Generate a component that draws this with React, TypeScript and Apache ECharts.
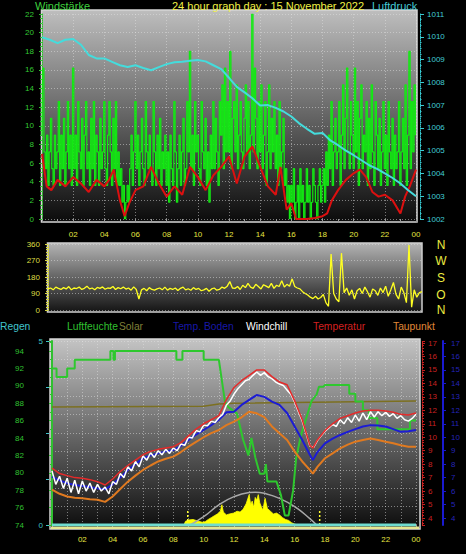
import { useEffect, useRef } from 'react';
import * as echarts from 'echarts';

// ---------- TOP CHART: wind (gust, 5-min) ----------
const windGust = [
  9.0,16.2,7.2,5.4,9.0,3.6,7.2,10.8,5.4,3.6,9.0,5.4,
  7.2,12.6,3.6,9.0,5.4,10.8,3.6,7.2,12.6,5.4,9.0,3.6,
  16.2,5.4,9.0,3.6,12.6,7.2,5.4,10.8,3.6,9.0,12.6,5.4,
  7.2,3.6,10.8,5.4,12.6,3.6,9.0,7.2,3.6,10.8,5.4,7.2,
  12.6,5.4,3.6,9.0,12.6,7.2,3.6,10.8,5.4,12.6,3.6,7.2,
  3.6,5.4,1.8,3.6,0,1.8,3.6,1.8,5.4,9.0,3.6,7.2,
  12.6,5.4,9.0,3.6,7.2,10.8,5.4,3.6,12.6,7.2,5.4,9.0,
  5.4,3.6,12.6,7.2,3.6,9.0,5.4,10.8,3.6,7.2,5.4,9.0,
  3.6,7.2,1.8,9.0,5.4,3.6,12.6,7.2,1.8,5.4,9.0,3.6,
  7.2,10.8,3.6,5.4,12.6,7.2,18.0,5.4,9.0,3.6,12.6,7.2,
  9.0,5.4,3.6,12.6,7.2,5.4,10.8,3.6,7.2,1.8,9.0,5.4,
  12.6,5.4,10.8,7.2,3.6,12.6,9.0,14.4,5.4,16.2,7.2,12.6,
  7.2,18.0,5.4,10.8,12.6,7.2,14.4,5.4,9.0,12.6,7.2,5.4,
  10.8,14.4,7.2,12.6,5.4,9.0,22.0,7.2,16.2,10.8,5.4,12.6,
  7.2,14.4,5.4,9.0,12.6,3.6,7.2,14.4,5.4,10.8,7.2,12.6,
  5.4,9.0,3.6,12.6,5.4,7.2,10.8,3.6,5.4,1.8,3.6,0,
  3.6,1.8,5.4,0,1.8,3.6,0,5.4,1.8,3.6,0,1.8,
  5.4,1.8,3.6,0,1.8,5.4,3.6,1.8,0,3.6,5.4,1.8,
  3.6,5.4,1.8,7.2,3.6,9.0,5.4,12.6,3.6,7.2,10.8,5.4,
  7.2,12.6,3.6,9.0,14.4,5.4,10.8,16.2,7.2,5.4,12.6,9.0,
  5.4,16.2,7.2,12.6,3.6,10.8,14.4,5.4,9.0,7.2,12.6,3.6,
  10.8,5.4,14.4,7.2,3.6,12.6,9.0,5.4,10.8,3.6,7.2,12.6,
  5.4,9.0,3.6,12.6,7.2,5.4,10.8,3.6,9.0,5.4,7.2,12.6,
  3.6,7.2,10.8,5.4,14.4,3.6,9.0,18.0,5.4,12.6,7.2,14.4,
  9.0,
];

const windAvgTimes = [0,0.3,0.6,1,1.5,2,2.5,3,3.5,4,4.3,4.6,5,5.3,5.6,6,6.5,7,7.5,8,8.5,9,9.5,10,10.5,11,11.5,12,12.5,13,13.5,14,14.5,15,15.3,15.7,16,16.3,16.5,17,17.5,18,18.3,18.6,19,19.5,20,20.4,20.8,21.2,21.6,22,22.5,23,23.3,23.6,24];
const windAvg = [7.0,3.5,3.1,4.2,3.5,4.5,3.8,2.9,4.2,3.5,4.2,5.3,2.0,0.3,1.7,3.1,3.5,5.6,3.8,2.4,3.5,2.6,5.6,4.5,3.1,4.7,5.6,6.7,3.8,6.7,7.8,5.6,3.5,2.6,5.6,1.0,1.7,0,0,0,0.1,0.3,0.6,2.0,3.1,4.2,4.9,5.3,4.5,2.9,2.4,2.6,2.0,0.6,2.4,3.5,5.3];

const pressureTimes = [0,0.5,1,1.5,2,2.5,3,3.5,4,4.5,5,5.5,6,6.5,7,7.5,8,8.5,9,9.5,10,10.5,11,11.5,12,12.5,13,13.5,14,14.5,15,15.5,16,16.5,17,17.5,18,18.5,19,19.5,20,20.5,21,21.5,22,22.5,23,23.5,24];
const pressure = [1009.98,1009.87,1009.72,1009.87,1009.9,1009.65,1009.2,1009.05,1009.05,1008.9,1008.75,1008.67,1008.75,1008.63,1008.53,1008.67,1008.8,1008.88,1008.9,1008.95,1008.98,1008.92,1008.75,1008.58,1008.2,1007.8,1007.56,1007.3,1006.98,1007.0,1006.88,1006.72,1006.5,1006.2,1005.96,1005.74,1005.78,1005.45,1005.24,1005.0,1004.8,1004.58,1004.36,1004.2,1004.0,1003.8,1003.56,1003.26,1003.0];

const windTicks = [0, 22, 2];
const pressureTicks = [1002, 1011, 1];

// ---------- MIDDLE CHART: wind direction (10-min) ----------
const direction = [
  115,120,110,125,118,112,
  122,115,128,110,120,117,
  125,112,118,130,115,120,
  110,123,118,126,113,120,
  118,128,112,122,116,125,
  114,120,108,126,112,60,
  110,118,105,122,112,108,
  115,120,110,125,108,118,
  112,120,106,118,125,110,
  116,108,122,112,118,105,
  110,118,102,115,120,108,
  112,125,118,130,155,120,
  118,128,112,135,122,145,
  125,118,140,128,115,138,
  130,122,145,118,135,128,
  160,125,140,130,170,128,
  120,115,100,90,82,70,
  62,75,60,68,85,40,
  20,305,90,60,45,310,
  95,120,80,110,60,105,
  118,90,125,100,70,115,
  105,80,120,95,130,75,
  110,150,85,60,125,95,
  40,355,15,110,70,95,
  100,
];
const compassLetters = ['N', 'W', 'S', 'O', 'N'];

// ---------- BOTTOM CHART ----------
const legendItems = ['Regen', 'Luftfeuchte', 'Solar', 'Temp. Boden', 'Windchill', 'Temperatur', 'Taupunkt'];

const tempTimes = [0,0.5,1,1.5,2,2.5,3,3.5,4,4.5,5,5.5,6,6.5,7,7.5,8,8.5,9,9.5,10,10.5,11,11.5,12,12.5,13,13.5,14,14.5,15,15.5,16,16.5,17,17.2,17.5,18,18.5,19,19.5,20,20.5,21,21.5,22,22.5,23,23.5,24];
const temperature = [7.7,7.3,7.15,7.0,6.95,6.85,6.7,6.45,6.9,7.45,7.9,8.3,8.7,8.95,9.1,9.2,9.3,9.6,10.1,10.6,11.0,11.3,11.6,12.8,13.7,14.2,14.6,15.0,15.0,14.5,14.1,13.9,12.7,11.3,9.4,9.2,9.8,10.5,11.0,11.4,11.6,11.8,11.95,12.0,12.0,11.95,11.85,11.7,11.65,11.8];
const groundTemp = [7.07,6.8,6.58,6.45,6.38,6.3,6.2,6.13,6.5,7.0,7.56,8.0,8.44,8.65,8.8,8.95,9.05,9.35,9.8,10.2,10.54,10.9,11.3,11.85,11.9,12.4,12.77,13.14,13.0,12.65,12.4,11.8,10.8,9.8,8.7,8.3,8.9,9.55,9.9,10.17,10.4,10.6,10.8,10.9,10.88,10.8,10.6,10.4,10.45,10.54];
const dewPoint = [6.1,5.8,5.6,5.5,5.47,5.4,5.35,5.2,5.6,6.15,6.7,7.15,7.57,7.9,8.2,8.4,8.56,8.9,9.3,9.65,10.0,10.3,10.54,10.9,11.16,11.48,11.9,11.78,11.5,10.8,10.3,9.8,8.93,8.2,7.57,7.3,7.8,8.44,8.8,9.18,9.45,9.67,9.8,9.9,9.8,9.67,9.55,9.4,9.3,9.3];

// windchill every 15 min
const windchill = [
  7.5,6.5,7.1,6.2, 6.95,5.9,6.8,5.8, 6.75,6.0,6.6,5.9, 6.5,6.0,6.3,5.8,
  6.7,6.5,7.3,7.0, 7.8,7.5,8.2,7.8, 8.6,8.3,8.85,8.5, 9.0,8.7,9.1,8.8,
  9.2,9.0,9.5,9.4, 10.0,9.95,10.5,10.4, 10.9,10.85,11.2,11.1, 11.45,11.7,12.4,12.7,
  13.2,13.6,13.9,14.2, 14.3,14.6,14.85,14.6, 14.8,14.5,14.35,14.1, 13.95,13.85,13.5,13.2,
  12.6,11.9,11.2,10.3, 9.35,9.25,9.75,10.1, 10.45,10.7,10.95,10.8, 11.3,11.0,11.45,11.1,
  11.65,11.2,11.8,11.3, 11.9,11.5,11.9,11.6, 11.85,11.55,11.75,11.4, 11.6,11.3,11.2,11.4,
  11.7,
];

const oliveTimes = [0, 10, 11, 12, 24];
const oliveValues = [12.25, 12.3, 12.47, 12.52, 12.7];

const humTimes = [0,0.3,0.3,1.0,1.0,1.5,1.5,3.85,3.85,4.05,4.05,4.15,4.15,8.2,8.2,8.6,8.6,10.0,10.0,11.0,11.4,11.6,12.2,12.6,12.95,13.15,13.4,13.7,14.0,14.1,14.2,14.8,15.1,15.35,15.6,15.9,16.1,16.4,16.8,17.1,17.45,17.6,17.9,18.0,19.6,19.6,20.0,20.0,20.5,20.5,20.9,20.9,21.45,21.45,23.6,23.6,24];
const humValues = [92,92,91,91,92,92,93,93,94,94,93,93,94,94,93,93,94,94,93,93,88.2,87.6,86.8,83.8,82,84,81.8,79.9,79.9,81,79,79,77.4,75.1,75.1,78,81.7,84.2,86.5,88.2,89,89.9,89.9,90.1,90.1,89.1,89.1,88.2,88.2,87.2,87.2,86.3,86.3,85,85,86,86];

const solarTimes = [8.7,8.8,9.0,9.3,9.6,9.9,10.1,10.3,10.5,10.7,10.9,11.1,11.2,11.3,11.5,11.7,12.0,12.2,12.4,12.6,12.8,13.0,13.1,13.2,13.3,13.4,13.5,13.6,13.7,13.8,13.9,14.05,14.2,14.4,14.6,14.8,15.0,15.2,15.4,15.6,15.8,16.0,16.2];
const solarValues = [0,20,27,30,22,15,18,30,40,50,60,75,110,70,55,60,65,75,70,85,115,165,110,130,95,150,135,165,120,100,80,145,90,75,60,65,55,40,30,25,12,5,0];
const solarMaxTimes = [9.1,10,11,12,13,13.4,14,15,16,17,17.45];
const solarMaxValues = [0,45,109,154,176,178,172,145,100,35,0];
const sunMarks = [8.95, 17.65];
const rainValue = 0;

const FONT = '"Liberation Sans", Arial, Helvetica, sans-serif';

const pad2 = (v: number) => { const h = v % 24; return h < 10 ? '0' + h : String(h); };
const hourLabel = (v: number) => (v === 0 || v % 2 !== 0 ? '' : pad2(v));
const intLabel = (v: number) => (Math.abs(v - Math.round(v)) < 1e-6 ? String(Math.round(v)) : '');
const pairs = (t: number[], v: number[]) => t.map((x, i) => [x, v[i]]);

export default function App() {
  const ref = useRef<HTMLDivElement>(null);
  useEffect(() => {
    if (!ref.current) return;
    const chart = echarts.init(ref.current, null, { renderer: 'svg', width: 466, height: 554 });
    const grad = (top: string, bottom: string) => ({
      type: 'linear', x: 0, y: 0, x2: 0, y2: 1,
      colorStops: [{ offset: 0, color: top }, { offset: 1, color: bottom }],
    });
    const dotted = { color: 'rgba(225,225,225,0.5)', type: [1, 2], width: 1 };
    const lab = (color: string, extra: any = {}) => ({ color, fontFamily: FONT, fontSize: 8, ...extra });
    const txt = (text: string, x: number, y: number, fill: string, size = 11, align = 'left') => ({
      type: 'text', x, y, z: 100,
      style: { text, fill, font: `${size}px ${FONT}`, textAlign: align, textVerticalAlign: 'middle', align, verticalAlign: 'middle' },
    });
    const line = (name: string, x: number, y: number, data: any[], color: string, width: number, extra: any = {}) => ({
      name, type: 'line', xAxisIndex: x, yAxisIndex: y, data, symbol: 'none', showSymbol: false,
      lineStyle: { color, width }, itemStyle: { color }, ...extra,
    });

    const legendX = [0, 67, 119, 173, 246, 313, 393];
    const legendColors = ['#40c4cc', '#30c030', '#808038', '#1818a8', '#ffffff', '#d42020', '#e08838'];
    const compassY = [244.5, 260.5, 278, 294.5, 309.5];

    const option: any = {
      animation: false,
      backgroundColor: '#000',
      graphic: { elements: [
        { type: 'rect', z: -10, shape: { x: 41.5, y: 10, width: 375.5, height: 212 }, style: { fill: grad('#bebebe', '#0b0b0b'), stroke: '#d6d6d6', lineWidth: 1.5 } },
        { type: 'rect', z: -10, shape: { x: 47.5, y: 243, width: 374.5, height: 69 }, style: { fill: grad('#b4b4b4', '#141414'), stroke: '#cfcfcf', lineWidth: 1.5 } },
        { type: 'rect', z: -10, shape: { x: 50, y: 339, width: 370, height: 190 }, style: { fill: grad('#c4c4c4', '#0c0c0c'), stroke: '#d6d6d6', lineWidth: 1.5 } },
        { type: 'rect', z: 50, shape: { x: 51, y: 526.5, width: 368, height: 2.5 }, style: { fill: '#e6e690' } },
        txt('Windstärke', 35, 5.5, '#3ed23e'),
        txt('24 hour graph day : 15 November 2022', 172, 5.5, '#f0f044'),
        txt('Luftdruck', 372, 5.5, '#44cad6'),
        ...legendItems.map((t, i) => txt(t, legendX[i], 326, legendColors[i], 10.3)),
        ...compassLetters.map((t, i) => txt(t, 441, compassY[i], '#ecec40', 12, 'center')),
      ] },
      grid: [
        { left: 42, top: 14, width: 374, height: 205, containLabel: false, outerBoundsMode: 'none' },
        { left: 48, top: 244, width: 374, height: 66, containLabel: false, outerBoundsMode: 'none' },
        { left: 52, top: 341, width: 364, height: 184, containLabel: false, outerBoundsMode: 'none' },
      ],
      xAxis: [
        { gridIndex: 0, type: 'value', min: 0, max: 24, interval: 2, offset: 3,
          axisLine: { show: false },
          axisTick: { show: true, length: 4, lineStyle: { color: '#9a9a9a' } },
          minorTick: { show: true, splitNumber: 2, length: 4, lineStyle: { color: '#9a9a9a' } },
          axisLabel: lab('#e4e440', { margin: 8, formatter: hourLabel }),
          splitLine: { show: true, lineStyle: dotted } },
        { gridIndex: 1, type: 'value', min: 0, max: 24, show: false },
        { gridIndex: 2, type: 'value', min: 0, max: 24, interval: 1, offset: 4,
          axisLine: { show: false },
          axisTick: { show: true, length: 3, lineStyle: { color: '#9a9a9a' } },
          axisLabel: lab('#e4e440', { margin: 6, formatter: hourLabel }),
          splitLine: { show: true, lineStyle: dotted } },
      ],
      yAxis: [
        // 0 wind
        { gridIndex: 0, type: 'value', position: 'left', min: windTicks[0], max: windTicks[1], interval: windTicks[2], offset: 2,
          axisLine: { show: true, lineStyle: { color: '#30c030', type: 'dotted' } },
          axisTick: { show: true, length: 3, lineStyle: { color: '#30c030' } },
          minorTick: { show: true, splitNumber: 4, length: 2, lineStyle: { color: '#30c030' } },
          axisLabel: lab('#34c834', { margin: 6, formatter: intLabel }),
          splitLine: { show: true, lineStyle: dotted } },
        // 1 pressure
        { gridIndex: 0, type: 'value', position: 'right', min: pressureTicks[0], max: pressureTicks[1], interval: pressureTicks[2], offset: 4,
          axisLine: { show: true, lineStyle: { color: '#38c8d0', type: 'dotted' } },
          axisTick: { show: true, length: 4, lineStyle: { color: '#38c8d0' } },
          minorTick: { show: true, splitNumber: 4, length: 1.5, lineStyle: { color: '#38c8d0' } },
          axisLabel: lab('#40ccd6', { margin: 7, formatter: intLabel }),
          splitLine: { show: false } },
        // 2 direction
        { gridIndex: 1, type: 'value', position: 'left', min: 0, max: 360, interval: 90, offset: 3,
          axisLine: { show: true, lineStyle: { color: '#d8d840', type: 'dotted' } },
          axisTick: { show: true, length: 3, lineStyle: { color: '#d8d840' } },
          minorTick: { show: true, splitNumber: 6, length: 2, lineStyle: { color: '#d8d840' } },
          axisLabel: lab('#dede44', { margin: 5, formatter: intLabel }),
          splitLine: { show: true, lineStyle: dotted } },
        // 3 humidity
        { gridIndex: 2, type: 'value', position: 'left', min: 74, max: 95.15, interval: 2, offset: 22,
          axisLine: { show: true, lineStyle: { color: '#30c030', width: 2 } },
          axisTick: { show: true, length: 3, lineStyle: { color: '#30c030' } },
          minorTick: { show: true, splitNumber: 2, length: 2, lineStyle: { color: '#30c030' } },
          axisLabel: lab('#30c030', { margin: 6, formatter: intLabel }),
          splitLine: { show: false } },
        // 4 rain
        { gridIndex: 2, type: 'value', position: 'left', min: 0, max: 5, interval: 1.25, offset: 3,
          axisLine: { show: false },
          axisTick: { show: true, length: 3, lineStyle: { color: '#40c4cc' } },
          axisLabel: lab('#40c4cc', { margin: 6, formatter: (v: number) => (v === 0 || v === 5 ? String(v) : '') }),
          splitLine: { show: false } },
        // 5 temperature (red)
        { gridIndex: 2, type: 'value', position: 'right', min: 3.48, max: 17.15, minInterval: 1, maxInterval: 1, offset: 6,
          axisLine: { show: true, lineStyle: { color: '#c82020', type: 'dotted' } },
          axisTick: { show: true, length: 3, lineStyle: { color: '#c82020' } },
          minorTick: { show: true, splitNumber: 5, length: 2, lineStyle: { color: '#c82020' } },
          axisLabel: lab('#c82020', { margin: 6, formatter: intLabel, showMinLabel: false, showMaxLabel: false }),
          splitLine: { show: false } },
        // 6 temperature (blue)
        { gridIndex: 2, type: 'value', position: 'right', min: 3.48, max: 17.15, minInterval: 1, maxInterval: 1, offset: 27,
          axisLine: { show: true, lineStyle: { color: '#1a1ad0', width: 2 } },
          axisTick: { show: true, length: 3, lineStyle: { color: '#1a1ad0' } },
          axisLabel: lab('#2424b8', { margin: 8, formatter: intLabel, showMinLabel: false, showMaxLabel: false }),
          splitLine: { show: false } },
        // 7 solar (hidden)
        { gridIndex: 2, type: 'value', min: 0, max: 1000, show: false },
        // 8 grid lines only
        { gridIndex: 2, type: 'value', min: 0, max: 10, interval: 1, position: 'left',
          axisLine: { show: false }, axisTick: { show: false }, axisLabel: { show: false },
          splitLine: { show: true, lineStyle: dotted } },
      ],
      series: [
        line('Windböen', 0, 0, windGust.map((v, i) => [i / 12, v]), '#12ea12', 1.2, { step: 'middle', z: 2 }),
        line('Windstärke', 0, 0, pairs(windAvgTimes, windAvg), '#dc1010', 2, { z: 3 }),
        line('Luftdruck', 0, 1, pairs(pressureTimes, pressure), '#44dcdc', 2, { z: 4 }),

        line('Windrichtung', 1, 2, direction.map((v, i) => [i / 6, v]), '#ffff22', 1.3, { z: 3 }),

        line('Solar', 2, 7, pairs(solarTimes, solarValues), '#ffff00', 0.8, { areaStyle: { color: '#ffff00', opacity: 1 }, z: 2 }),
        line('Solar max', 2, 7, pairs(solarMaxTimes, solarMaxValues), '#a8a8a8', 1.5, { smooth: true, z: 3 }),
        ...sunMarks.map((t) => line('Sonne', 2, 7, [[t, 0], [t, 80]], '#ffff30', 1.5, { lineStyle: { color: '#ffff30', width: 1.5, type: [2, 2] }, z: 3 })),
        line('Boden2', 2, 5, pairs(oliveTimes, oliveValues), '#7c7020', 1.5, { z: 3 }),
        line('Regen', 2, 4, [[0, rainValue], [24, rainValue]], '#70dcd0', 3, { z: 51 }),
        line('Luftfeuchte', 2, 3, pairs(humTimes, humValues), '#2ec82e', 2, { z: 4 }),
        line('Taupunkt', 2, 5, pairs(tempTimes, dewPoint), '#e07a20', 2, { z: 5 }),
        line('Temp. Boden', 2, 5, pairs(tempTimes, groundTemp), '#1c1cd4', 2, { z: 6 }),
        line('Windchill', 2, 5, windchill.map((v, i) => [i / 4, v]), '#ffffff', 1.5, { z: 7 }),
        line('Temperatur', 2, 5, pairs(tempTimes, temperature), '#e62a2a', 1.5, { z: 8 }),
      ],
    };
    chart.setOption(option);
    return () => chart.dispose();
  }, []);
  return <div ref={ref} style={{ position: 'fixed', left: 0, top: 0, width: 466, height: 554, background: '#000' }} />;
}
